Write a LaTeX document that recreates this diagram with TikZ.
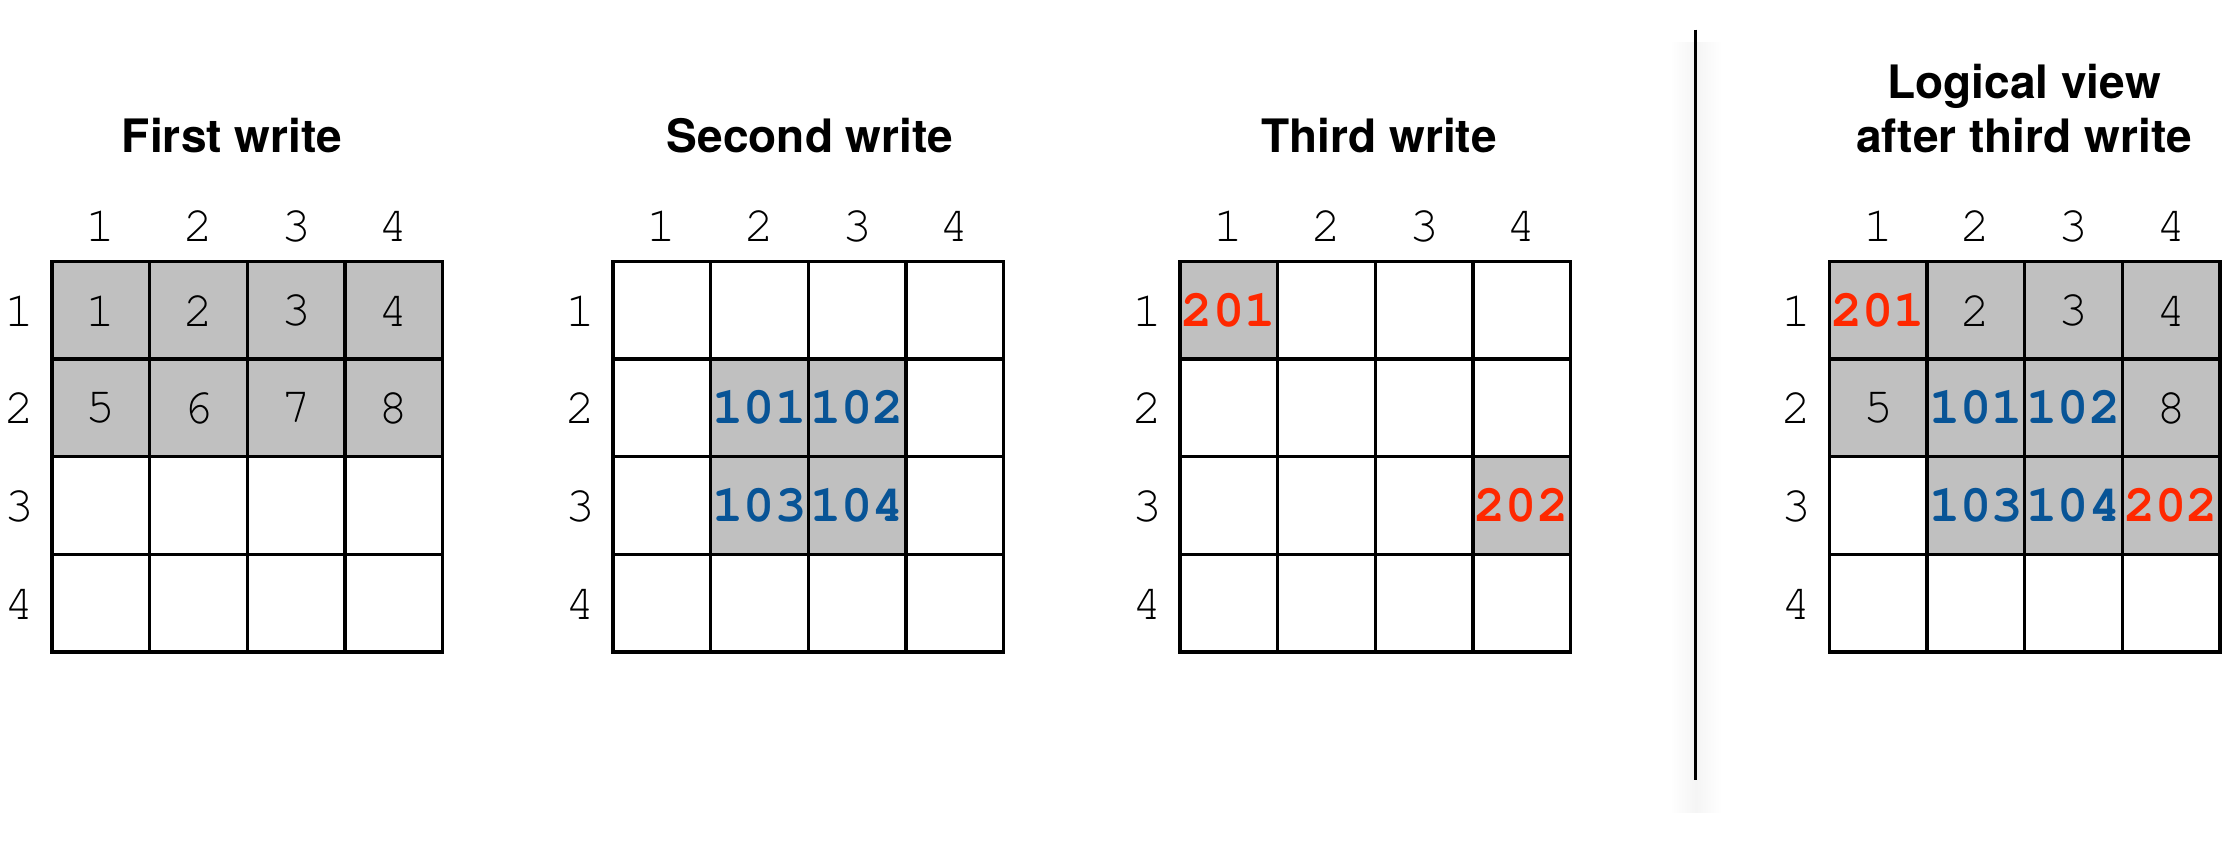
\documentclass[tikz,border=0pt]{standalone}
\usepackage[T1]{fontenc}
\usepackage{fontspec}
\usepackage{xcolor}
\usepackage{tikz}
\usetikzlibrary{%
  positioning,
  backgrounds}
\newfontfamily\helv{TeX Gyre Heros}
\newcommand{\courfont}{\fontencoding{T1}\fontfamily{pcr}\selectfont}
\definecolor{cellgray}{RGB}{192,192,192}
\definecolor{newblue}{RGB}{8,84,150}
\definecolor{latered}{RGB}{255,40,0}
\tikzset{
  %% Grid cells
  cellbox/.style={
    rectangle, draw=black, line width=0.95pt,
    minimum width=0.976cm, minimum height=0.976cm,
    inner sep=0pt},
  %% Row / column indices
  idxnum/.style={
    inner sep=0pt, font=\courfont\fontsize{14.2}{14.2}\selectfont},
  %% Cell contents
  oldval/.style={
    inner sep=0pt, font=\courfont\fontsize{14.2}{14.2}\selectfont},
  newval/.style={
    inner sep=0pt, text=newblue,
    font=\courfont\bfseries\fontsize{14.8}{14.8}\selectfont},
  lateval/.style={
    inner sep=0pt, text=latered,
    font=\courfont\bfseries\fontsize{14.8}{14.8}\selectfont},
  %% Titles
  titletext/.style={
    anchor=base, align=center, inner sep=0pt,
    font=\helv\bfseries\fontsize{13.1}{15.1}\selectfont},
  %% Separator
  sepline/.style={line width=0.6pt, black},
}
\begin{document}
\begin{tikzpicture}[x=0.01cm, y=-0.01cm]
  \useasboundingbox (0,0) rectangle (2229,841);

  %% Four 4x4 grids with indices
  \foreach \g/\gx in {a/52,b/613,c/1180,d/1829.5} {
    \foreach \r in {1,...,4} {
      \foreach \c in {1,...,4}
        \node[cellbox] (\g-\r-\c) at (\gx+\c*97.6-48.8, 261.5+\r*97.6-48.8) {};
      \node[idxnum] (\g-row\r) at (\gx-33, 261.5+\r*97.6-48.8) {\r};
      \node[idxnum] (\g-col\r) at (\gx+\r*97.6-48.8, 226) {\r};
    }
  }

  %% Written cells (gray)
  \begin{scope}[on background layer]
    \fill[cellgray] (a-1-1.north west) rectangle (a-2-4.south east);
    \fill[cellgray] (b-2-2.north west) rectangle (b-3-3.south east);
    \fill[cellgray] (c-1-1.north west) rectangle (c-1-1.south east);
    \fill[cellgray] (c-3-4.north west) rectangle (c-3-4.south east);
    \fill[cellgray] (d-1-1.north west) rectangle (d-2-4.south east);
    \fill[cellgray] (d-3-2.north west) rectangle (d-3-4.south east);
  \end{scope}

  %% First write
  \node[titletext] (ta) at (232,152) {First write};
  \foreach \c in {1,...,4} {
    \pgfmathtruncatemacro\m{\c+4}
    \node[oldval] (a-v\c) at (a-1-\c) {\c};
    \node[oldval] (a-v\m) at (a-2-\c) {\m};
  }

  %% Second write
  \node[titletext] (tb) at (810,152) {Second write};
  \node[newval] (b-v101) at (b-2-2) {101};
  \node[newval] (b-v102) at (b-2-3) {102};
  \node[newval] (b-v103) at (b-3-2) {103};
  \node[newval] (b-v104) at (b-3-3) {104};

  %% Third write
  \node[titletext] (tc) at (1379,152) {Third write};
  \node[lateval] (c-v201) at (c-1-1) {201};
  \node[lateval] (c-v202) at (c-3-4) {202};

  %% Separator
  \coordinate (septop) at (1695.5,29.5);
  \coordinate (sepbot) at (1695.5,780);
  \shade[left color=white, right color=white, middle color=black!4]
    (1670,42) rectangle (1722,812);
  \draw[sepline] (septop) -- (sepbot);

  %% Logical view
  \node[titletext] (td) at (2024,152) {Logical view\\ after third write};
  \node[lateval] (d-v201) at (d-1-1) {201};
  \node[oldval]  (d-v2)   at (d-1-2) {2};
  \node[oldval]  (d-v3)   at (d-1-3) {3};
  \node[oldval]  (d-v4)   at (d-1-4) {4};
  \node[oldval]  (d-v5)   at (d-2-1) {5};
  \node[newval]  (d-v101) at (d-2-2) {101};
  \node[newval]  (d-v102) at (d-2-3) {102};
  \node[oldval]  (d-v8)   at (d-2-4) {8};
  \node[newval]  (d-v103) at (d-3-2) {103};
  \node[newval]  (d-v104) at (d-3-3) {104};
  \node[lateval] (d-v202) at (d-3-4) {202};

\end{tikzpicture}
\end{document}
